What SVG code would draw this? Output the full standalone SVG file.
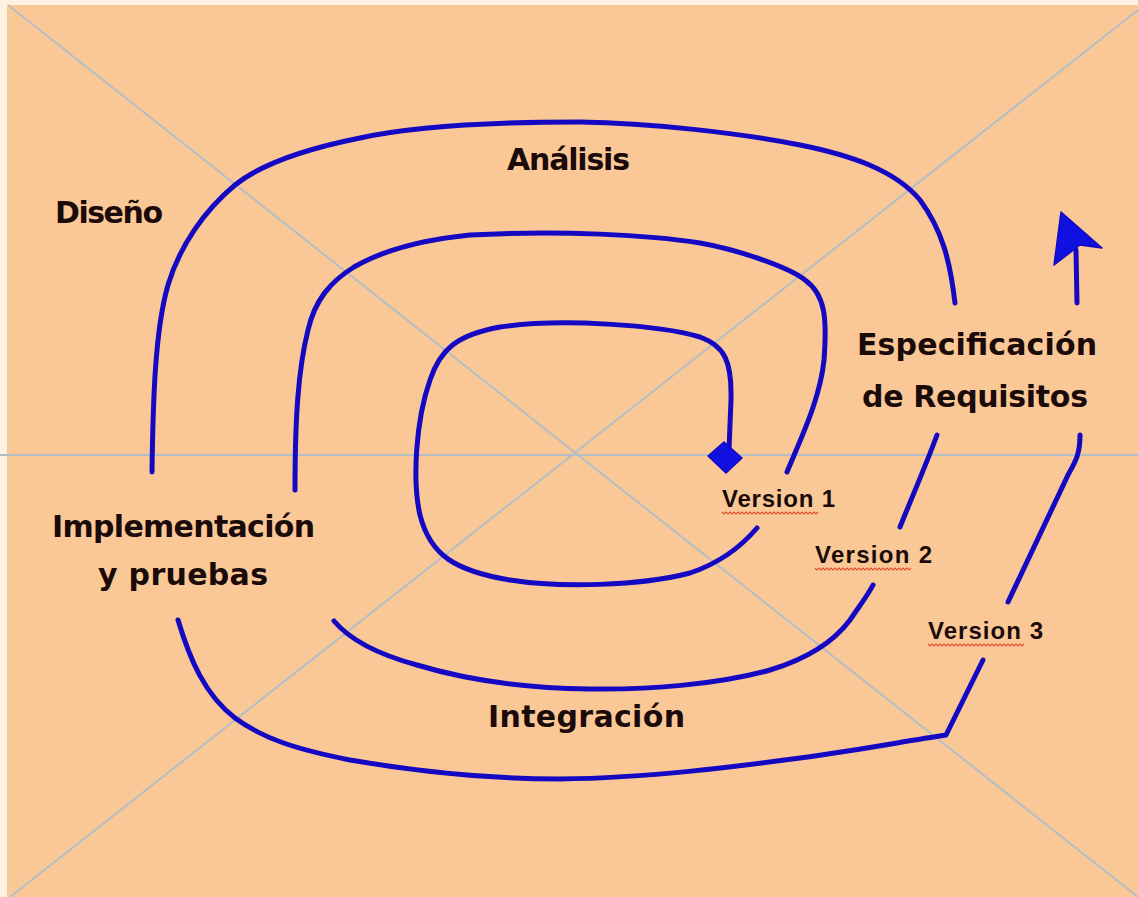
<svg xmlns="http://www.w3.org/2000/svg" width="1138" height="897" viewBox="0 0 1138 897">
<defs>
<style>
.bg{fill:#FAC896}
.guide{stroke:#B4BEC6;stroke-width:2;fill:none}
.spiral{stroke:#1408C2;stroke-width:5;fill:none;stroke-linecap:round;stroke-linejoin:round}
.head{fill:#1010E0;stroke:#1408C2;stroke-width:1.5;stroke-linejoin:round}
.lbl{font-family:"DejaVu Sans","Liberation Sans",sans-serif;font-weight:bold;font-size:30px;fill:#1A0A0A}
.ver{font-family:"Liberation Sans","DejaVu Sans",sans-serif;font-weight:bold;font-size:24px;fill:#1A0A0A}
.squig{stroke:#E0502A;stroke-width:1.2;fill:none}
</style>
</defs>
<rect x="0" y="0" width="1138" height="897" fill="#FDF2E2"/>
<rect class="bg" x="7" y="5" width="1131" height="892"/>
<g id="guides">
<line class="guide" x1="8" y1="5" x2="1138" y2="897"/>
<line class="guide" x1="1138" y1="10" x2="10" y2="897"/>
<line class="guide" x1="0" y1="455" x2="1138" y2="455"/>
</g>
<g id="connectors">
<path class="spiral" d="M729,450 L731,400 C732,362 725,346 700,337 C660,325 560,318 500,327 C456,335 440,350 430,380 C416,420 412,480 420,515 C430,555 455,571 510,580 C560,588 640,586 690,573 C720,563 740,548 757,528"/>
<path class="spiral" d="M787,472 C800,440 820,400 824,360 C827,320 826,295 805,280 C790,268 740,250 700,243 C650,235 560,230 470,235 C420,240 380,252 354,267 C330,282 315,300 308,330 C298,370 295,420 295,490"/>
<path class="spiral" d="M334,621 C350,640 380,655 417,665 C460,678 520,688 589,689 C650,690 720,684 770,670 C810,658 835,640 850,620 C860,605 868,595 873,585"/>
<path class="spiral" d="M900,527 C912,497 926,465 937,435"/>
<path class="spiral" d="M955,303 C950,260 942,230 920,200 C895,170 850,155 800,145 C740,133 650,123 580,122 C500,122 420,125 360,138 C300,150 260,165 235,185 C205,210 180,245 168,285 C155,330 153,400 152,472"/>
<path class="spiral" d="M178,620 C190,660 205,695 235,718 C265,740 300,750 350,760 C420,772 490,779 560,779 C650,778 740,766 800,758 C860,750 900,742 946,735 L983,660"/>
<path class="spiral" d="M1008,602 L1068,475 C1075,462 1080,455 1080,435"/>
<path class="spiral" d="M1077,303 L1076,250"/>
<polygon class="head" points="1061,212 1102,248 1080,245 1054,265"/>
<polygon class="head" points="708,456 724,442 742,458 726,473"/>
</g>
<g id="n-diseno"><text class="lbl" x="55" y="223" textLength="108">Diseño</text></g>
<g id="n-analisis"><text class="lbl" x="507" y="170" textLength="123">Análisis</text></g>
<g id="n-especificacion"><text class="lbl" x="857" y="355" textLength="240">Especificación</text><text class="lbl" x="862" y="407" textLength="226">de Requisitos</text></g>
<g id="n-implementacion"><text class="lbl" x="52" y="537" textLength="263">Implementación</text><text class="lbl" x="98" y="585" textLength="170">y pruebas</text></g>
<g id="n-integracion"><text class="lbl" x="488" y="727" textLength="197">Integración</text></g>
<g id="n-v1"><text class="ver" x="722" y="507" textLength="113">Version 1</text><path class="squig" d="M722,512 l2,2 l2,-2 l2,2 l2,-2 l2,2 l2,-2 l2,2 l2,-2 l2,2 l2,-2 l2,2 l2,-2 l2,2 l2,-2 l2,2 l2,-2 l2,2 l2,-2 l2,2 l2,-2 l2,2 l2,-2 l2,2 l2,-2 l2,2 l2,-2 l2,2 l2,-2 l2,2 l2,-2 l2,2 l2,-2 l2,2 l2,-2 l2,2 l2,-2 l2,2 l2,-2 l2,2 l2,-2 l2,2 l2,-2 l2,2 l2,-2 l2,2 l2,-2 l2,2 l2,-2"/></g>
<g id="n-v2"><text class="ver" x="815" y="563" textLength="117">Version 2</text><path class="squig" d="M815,568 l2,2 l2,-2 l2,2 l2,-2 l2,2 l2,-2 l2,2 l2,-2 l2,2 l2,-2 l2,2 l2,-2 l2,2 l2,-2 l2,2 l2,-2 l2,2 l2,-2 l2,2 l2,-2 l2,2 l2,-2 l2,2 l2,-2 l2,2 l2,-2 l2,2 l2,-2 l2,2 l2,-2 l2,2 l2,-2 l2,2 l2,-2 l2,2 l2,-2 l2,2 l2,-2 l2,2 l2,-2 l2,2 l2,-2 l2,2 l2,-2 l2,2 l2,-2 l2,2 l2,-2"/></g>
<g id="n-v3"><text class="ver" x="928" y="639" textLength="115">Version 3</text><path class="squig" d="M928,644 l2,2 l2,-2 l2,2 l2,-2 l2,2 l2,-2 l2,2 l2,-2 l2,2 l2,-2 l2,2 l2,-2 l2,2 l2,-2 l2,2 l2,-2 l2,2 l2,-2 l2,2 l2,-2 l2,2 l2,-2 l2,2 l2,-2 l2,2 l2,-2 l2,2 l2,-2 l2,2 l2,-2 l2,2 l2,-2 l2,2 l2,-2 l2,2 l2,-2 l2,2 l2,-2 l2,2 l2,-2 l2,2 l2,-2 l2,2 l2,-2 l2,2 l2,-2 l2,2 l2,-2"/></g>
</svg>
